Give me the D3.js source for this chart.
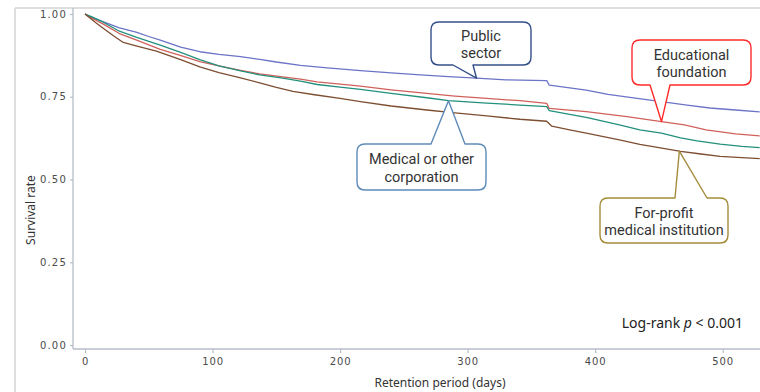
<!DOCTYPE html>
<html>
<head>
<meta charset="utf-8">
<script src="https://cdn.jsdelivr.net/npm/d3@7"></script>
<style>
  html, body { margin: 0; padding: 0; background: #fff; }
  svg { display: block; }
</style>
</head>
<body>
<svg id="chart" width="760" height="392"></svg>
<script>
// Kaplan–Meier survival estimates by hospital ownership type: [day, survival]
const publicSector = [
  [0,1.000],[5,0.990],[14,0.977],[27,0.958],[40,0.945],[50,0.932],[59,0.921],
  [75,0.900],[90,0.886],[105,0.878],[122,0.871],[137,0.863],[150,0.855],[169,0.845],
  [190,0.837],[216,0.829],[240,0.822],[263,0.816],[285,0.811],[307,0.806],[330,0.801],
  [362,0.799],[364,0.785],[380,0.777],[393,0.770],[410,0.757],[433,0.745],[452,0.735],
  [472,0.725],[490,0.716],[510,0.710],[529,0.704]
];
const educationalFoundation = [
  [0,1.000],[5,0.988],[14,0.970],[27,0.941],[40,0.922],[59,0.893],[74,0.876],
  [90,0.856],[105,0.843],[122,0.830],[137,0.819],[155,0.810],[169,0.803],[182,0.795],
  [200,0.788],[216,0.782],[240,0.771],[268,0.760],[290,0.752],[315,0.745],[341,0.738],
  [362,0.730],[364,0.715],[393,0.705],[425,0.690],[452,0.675],[470,0.665],[487,0.650],
  [510,0.638],[529,0.632]
];
const medicalOrOther = [
  [0,1.000],[5,0.992],[14,0.976],[27,0.948],[40,0.930],[59,0.906],[75,0.884],
  [90,0.862],[105,0.843],[122,0.828],[137,0.816],[155,0.806],[169,0.797],[182,0.787],
  [200,0.779],[216,0.772],[240,0.760],[268,0.747],[285,0.738],[315,0.731],[341,0.725],
  [362,0.720],[364,0.708],[380,0.697],[393,0.688],[419,0.665],[435,0.650],[452,0.640],
  [467,0.626],[480,0.617],[498,0.607],[515,0.600],[529,0.596]
];
const forProfit = [
  [0,1.000],[8,0.975],[14,0.958],[22,0.935],[30,0.914],[40,0.904],[56,0.888],
  [75,0.862],[90,0.840],[105,0.823],[122,0.807],[137,0.792],[150,0.778],[163,0.766],
  [180,0.756],[200,0.745],[216,0.735],[240,0.722],[268,0.710],[290,0.701],[315,0.692],
  [341,0.682],[362,0.676],[366,0.661],[380,0.650],[393,0.640],[419,0.620],[435,0.606],
  [450,0.596],[467,0.585],[483,0.577],[498,0.570],[515,0.566],[529,0.563]
];

const xTicks = [0, 100, 200, 300, 400, 500];
const yTicks = [0, 0.25, 0.5, 0.75, 1];

const seriesList = [
  { name: "Public sector", data: publicSector, color: "#6b74c6" },
  { name: "Educational foundation", data: educationalFoundation, color: "#d0615b" },
  { name: "Medical or other corporation", data: medicalOrOther, color: "#23907c" },
  { name: "For-profit medical institution", data: forProfit, color: "#7d4e30" }
];

const svg = d3.select("#chart");
const W = 760, H = 392;

const x = d3.scaleLinear().domain([0, 500]).range([85, 722.7]);
const y = d3.scaleLinear().domain([0, 1]).range([345, 14]);

const axisColor = "#b7bdc8";
const axisX0 = 73, axisY0 = 349;

// outer panel frame
svg.append("line").attr("x1", 15).attr("x2", 15).attr("y1", 8).attr("y2", H)
  .attr("stroke", "#d3d3d3").attr("stroke-width", 1.5);
svg.append("line").attr("x1", 15).attr("x2", W).attr("y1", 8).attr("y2", 8)
  .attr("stroke", "#d3d3d3").attr("stroke-width", 1.5);

// axis lines
svg.append("line").attr("x1", axisX0).attr("x2", axisX0).attr("y1", 8).attr("y2", axisY0)
  .attr("stroke", axisColor).attr("stroke-width", 1.3);
svg.append("line").attr("x1", axisX0).attr("x2", W).attr("y1", axisY0).attr("y2", axisY0)
  .attr("stroke", axisColor).attr("stroke-width", 1.3);

const tickFont = "'DejaVu Sans', Verdana, sans-serif";

// y axis
const yAxis = d3.axisLeft(y).tickValues(yTicks).tickFormat(d3.format(".2f"))
  .tickSize(3).tickPadding(3);
const gy = svg.append("g").attr("transform", `translate(${axisX0},0)`).call(yAxis);
gy.select(".domain").remove();
gy.selectAll(".tick line").attr("stroke", axisColor).attr("stroke-width", 1.2);
gy.selectAll(".tick text").attr("fill", "#4a4a4a").style("font-family", tickFont)
  .style("font-size", "10px").style("letter-spacing", "1.2px");

// x axis
const xAxis = d3.axisBottom(x).tickValues(xTicks).tickFormat(d3.format("d"))
  .tickSize(4).tickPadding(5);
const gx = svg.append("g").attr("transform", `translate(0,${axisY0})`).call(xAxis);
gx.select(".domain").remove();
gx.selectAll(".tick line").attr("stroke", axisColor).attr("stroke-width", 1.2);
gx.selectAll(".tick text").attr("fill", "#4a4a4a").style("font-family", tickFont)
  .style("font-size", "10px").style("letter-spacing", "0.9px");

// axis titles
const labelFont = "'Noto Sans', 'Open Sans', sans-serif";
const calloutFont = "Roboto, 'Noto Sans', sans-serif";
svg.append("text").attr("x", 440).attr("y", 387).attr("text-anchor", "middle")
  .style("font-family", labelFont).style("font-size", "12px").attr("fill", "#333")
  .text("Retention period (days)");
svg.append("text").attr("transform", "translate(35,210) rotate(-90)").attr("text-anchor", "middle")
  .style("font-family", labelFont).style("font-size", "12px").attr("fill", "#333")
  .text("Survival rate");

// survival curves
svg.append("clipPath").attr("id", "plotClip").append("rect")
  .attr("x", axisX0).attr("y", 8).attr("width", W - axisX0).attr("height", axisY0 - 8);

const line = d3.line().x(d => x(d[0])).y(d => y(d[1])).curve(d3.curveLinear);
svg.append("g").attr("clip-path", "url(#plotClip)")
  .selectAll("path").data(seriesList).join("path")
  .attr("d", d => line(d.data))
  .attr("fill", "none").attr("stroke", d => d.color).attr("stroke-width", 1.3)
  .attr("stroke-linejoin", "round");

// survival value at a given day
function survivalAt(data, day) {
  let v = data[0][1];
  for (let i = 1; i < data.length; i++) {
    const [d0, v0] = data[i - 1], [d1, v1] = data[i];
    if (day >= d0 && day <= d1) return v0 + (v1 - v0) * (day - d0) / (d1 - d0);
    v = v1;
  }
  return v;
}

// callout annotations
const callouts = [
  { lines: ["Public", "sector"], data: publicSector, day: 307, color: "#34508a",
    box: [431, 22, 531, 65], side: "bottom", base: [453, 473] },
  { lines: ["Medical or other", "corporation"], data: medicalOrOther, day: 285, color: "#5d8ab8",
    box: [357, 144, 486, 190], side: "top", base: [431, 465] },
  { lines: ["Educational", "foundation"], data: educationalFoundation, day: 452, color: "#ff2b2b",
    box: [632, 40, 751, 85], side: "bottom", base: [650, 670] },
  { lines: ["For-profit", "medical institution"], data: forProfit, day: 466, color: "#a58c3c",
    box: [600, 198, 728, 243], side: "top", base: [675, 707] }
];

function calloutPath(c, tx, ty) {
  const [x0, y0, x1, y1] = c.box, r = 8;
  const p = d3.path();
  p.moveTo(x0 + r, y0);
  if (c.side === "top") { p.lineTo(c.base[0], y0); p.lineTo(tx, ty); p.lineTo(c.base[1], y0); }
  p.lineTo(x1 - r, y0);
  p.quadraticCurveTo(x1, y0, x1, y0 + r);
  p.lineTo(x1, y1 - r);
  p.quadraticCurveTo(x1, y1, x1 - r, y1);
  if (c.side === "bottom") { p.lineTo(c.base[1], y1); p.lineTo(tx, ty); p.lineTo(c.base[0], y1); }
  p.lineTo(x0 + r, y1);
  p.quadraticCurveTo(x0, y1, x0, y1 - r);
  p.lineTo(x0, y0 + r);
  p.quadraticCurveTo(x0, y0, x0 + r, y0);
  p.closePath();
  return p.toString();
}

callouts.forEach(c => {
  const tx = x(c.day), ty = y(survivalAt(c.data, c.day));
  const g = svg.append("g");
  g.append("path").attr("d", calloutPath(c, tx, ty))
    .attr("fill", "#fff").attr("stroke", c.color).attr("stroke-width", 1.4)
    .attr("stroke-linejoin", "round");
  const cx = (c.box[0] + c.box[2]) / 2, cy = (c.box[1] + c.box[3]) / 2;
  const t = g.append("text").attr("text-anchor", "middle")
    .style("font-family", calloutFont).style("font-size", "14.5px").attr("fill", "#333");
  t.append("tspan").attr("x", cx).attr("y", cy - 3).text(c.lines[0]);
  t.append("tspan").attr("x", cx).attr("dy", 17.5).text(c.lines[1]);
});

// log-rank test result
const lr = svg.append("text").attr("x", 743).attr("y", 328).attr("text-anchor", "end")
  .style("font-family", labelFont).style("font-size", "14px").attr("fill", "#222");
lr.append("tspan").text("Log-rank ");
lr.append("tspan").style("font-style", "italic").text("p");
lr.append("tspan").text(" < 0.001");
</script>
</body>
</html>
